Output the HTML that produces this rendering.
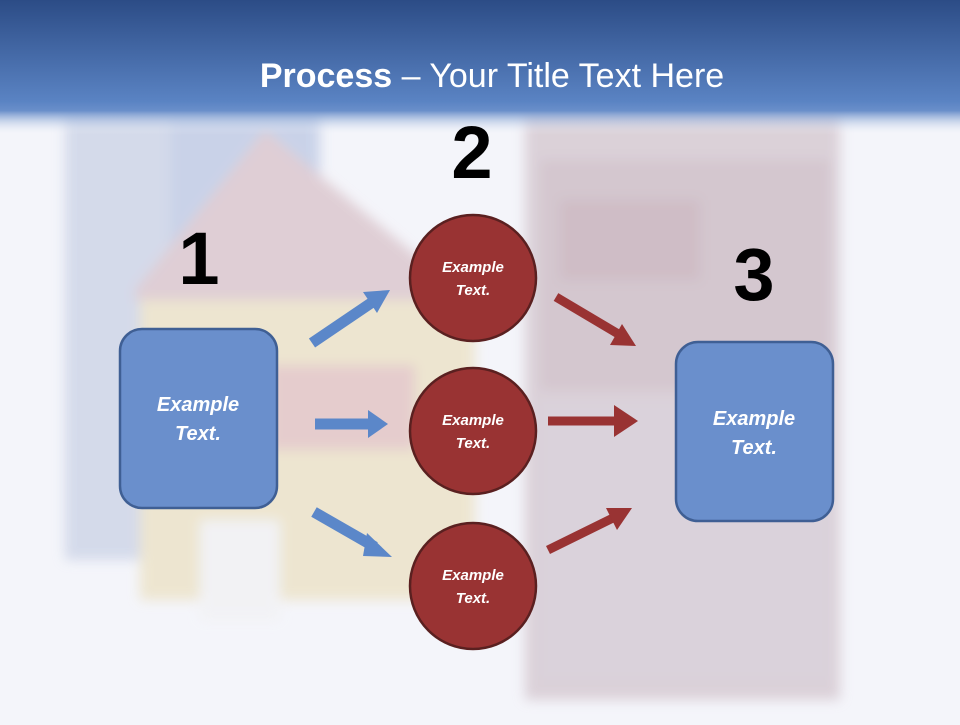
<!DOCTYPE html>
<html><head><meta charset="utf-8"><style>
body{margin:0;width:960px;height:720px;overflow:hidden;background:#f4f5fa;font-family:"Liberation Sans",sans-serif}
</style></head><body>
<svg width="960" height="720" viewBox="0 0 960 720" xmlns="http://www.w3.org/2000/svg">
<defs>
<linearGradient id="hd" x1="0" y1="0" x2="0" y2="1">
<stop offset="0" stop-color="#2c4c86"/><stop offset="0.75" stop-color="#5a83c3"/><stop offset="0.82" stop-color="#6a8fca"/><stop offset="1" stop-color="#f4f5fa" stop-opacity="0"/>
</linearGradient>
<filter id="bl"><feGaussianBlur stdDeviation="6"/></filter>
</defs>
<rect width="960" height="720" fill="#f4f5fa"/>
<g filter="url(#bl)" opacity="0.85">
<rect x="65" y="110" width="255" height="450" fill="#cfd6e8"/>
<rect x="170" y="110" width="150" height="200" fill="#c2cde6"/>
<rect x="525" y="110" width="315" height="590" fill="#d7cbd3"/>
<rect x="540" y="160" width="290" height="230" fill="#cfbfc8"/>
<rect x="540" y="400" width="290" height="280" fill="#d6ccd6"/>
<polygon points="135,290 265,130 470,300 135,300" fill="#dcc8cf"/>
<rect x="140" y="300" width="335" height="300" fill="#ece3c9"/>
<rect x="200" y="520" width="80" height="100" fill="#f2f2f4"/>
<rect x="270" y="365" width="145" height="85" fill="#e3c6c6"/>
<rect x="560" y="200" width="140" height="80" fill="#c9b4bd"/>
</g>
<rect x="0" y="0" width="960" height="135" fill="url(#hd)"/>
<text x="492" y="87" text-anchor="middle" fill="#fff" font-size="34" font-family="Liberation Sans, sans-serif"><tspan font-weight="bold">Process</tspan> – Your Title Text Here</text>
<g font-weight="bold" font-size="74" text-anchor="middle" fill="#000">
<text x="199" y="284">1</text><text x="472" y="178">2</text><text x="754" y="300">3</text>
</g>
<g stroke="#5b87c9" stroke-width="11" fill="#5b87c9">
<line x1="312" y1="343" x2="374" y2="301"/><line x1="315" y1="424" x2="370" y2="424"/><line x1="314" y1="512" x2="375" y2="547"/>
</g>
<g fill="#5b87c9">
<polygon points="390,290 363,292 377,313"/>
<polygon points="388,424 368,410 368,438"/>
<polygon points="392,557 367,533 363,556" />
</g>
<g stroke="#993333" stroke-width="9">
<line x1="556" y1="297" x2="620" y2="335"/><line x1="548" y1="421" x2="618" y2="421"/><line x1="548" y1="550" x2="615" y2="517"/>
</g>
<g fill="#993333">
<polygon points="636,346 610,345 622,324"/>
<polygon points="638,421 614,405 614,437"/>
<polygon points="632,508 606,508 617,530"/>
</g>
<g fill="#993333" stroke="#5a2020" stroke-width="2.5">
<ellipse cx="473" cy="278" rx="63" ry="63"/><ellipse cx="473" cy="431" rx="63" ry="63"/><ellipse cx="473" cy="586" rx="63" ry="63"/>
</g>
<g fill="#6a8fcc" stroke="#3f5f94" stroke-width="2.5">
<rect x="120" y="329" width="157" height="179" rx="22"/><rect x="676" y="342" width="157" height="179" rx="22"/>
</g>
<g fill="#fff" font-weight="bold" font-style="italic" text-anchor="middle">
<g font-size="15"><text x="473" y="272">Example</text><text x="473" y="295">Text.</text>
<text x="473" y="425">Example</text><text x="473" y="448">Text.</text>
<text x="473" y="580">Example</text><text x="473" y="603">Text.</text></g>
<g font-size="20"><text x="198" y="411">Example</text><text x="198" y="440">Text.</text>
<text x="754" y="425">Example</text><text x="754" y="454">Text.</text></g>
</g>
</svg>
</body></html>
